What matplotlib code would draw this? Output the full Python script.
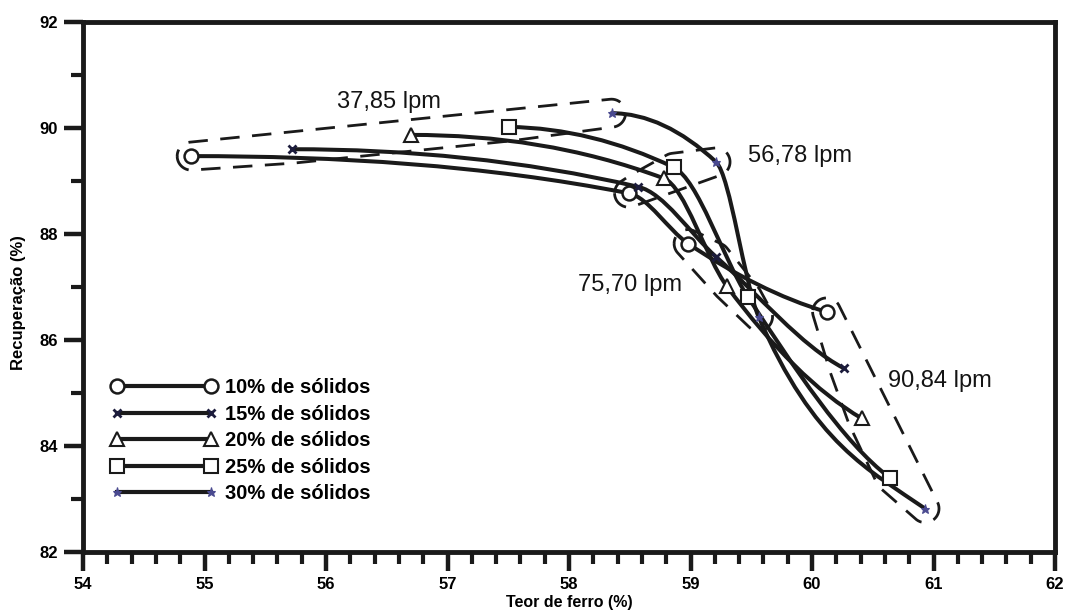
import matplotlib.pyplot as plt
import numpy as np
from matplotlib.path import Path
from matplotlib.patches import PathPatch, Polygon
from matplotlib.lines import Line2D

plt.rcParams['font.family'] = ['Liberation Sans', 'DejaVu Sans']

# Vazões de ar (uma por ponto de cada curva)
vazoes = ['37,85 lpm', '56,78 lpm', '75,70 lpm', '90,84 lpm']
solidos = ['10% de sólidos', '15% de sólidos', '20% de sólidos',
           '25% de sólidos', '30% de sólidos']

# Teor de ferro (%) e recuperação (%) por porcentagem de sólidos
teor_10 = [54.89, 58.49, 58.98, 60.12]
rec_10 = [89.47, 88.77, 87.82, 86.53]
teor_15 = [55.72, 58.57, 59.21, 60.26]
rec_15 = [89.60, 88.89, 87.57, 85.47]
teor_20 = [56.70, 58.78, 59.30, 60.41]
rec_20 = [89.87, 89.05, 87.01, 84.52]
teor_25 = [57.51, 58.86, 59.47, 60.64]
rec_25 = [90.02, 89.26, 86.82, 83.40]
teor_30 = [58.35, 59.21, 59.56, 60.93]
rec_30 = [90.28, 89.36, 86.44, 82.82]

teores = [teor_10, teor_15, teor_20, teor_25, teor_30]
recs = [rec_10, rec_15, rec_20, rec_25, rec_30]

# posição dos rótulos das vazões
pos_rotulos = [(56.52, 90.49), (59.90, 89.47), (58.50, 87.04), (61.05, 85.23)]

estilos = [
    dict(marker='o', ms=10, mfc='white', mec='#1a1a1a', mew=1.8),
    dict(marker='x', ms=6, mfc='#1c1c3c', mec='#1c1c3c', mew=2.0),
    dict(marker='^', ms=10, mfc='white', mec='#1a1a1a', mew=1.5),
    dict(marker='s', ms=10, mfc='white', mec='#1a1a1a', mew=1.5),
    dict(marker='*', ms=6.5, mfc='#4a4a90', mec='#4a4a90', mew=0.8),
]


def inclinacoes(x, y):
    # derivada em cada ponto: PCHIP, puxado um pouco para a parábola
    # de 3 pontos no trecho mais íngreme
    h = np.diff(x)
    s = np.diff(y) / h
    n = len(x)
    d = np.zeros(n)
    peso = [0.0, 0.3]
    for k in range(1, n - 1):
        par = (h[k] * s[k - 1] + h[k - 1] * s[k]) / (h[k - 1] + h[k])
        pch = 0.0
        if s[k - 1] * s[k] > 0:
            w1 = 2 * h[k] + h[k - 1]
            w2 = h[k] + 2 * h[k - 1]
            pch = (w1 + w2) / (w1 / s[k - 1] + w2 / s[k])
        d[k] = pch + peso[min(k - 1, len(peso) - 1)] * (par - pch)
    # início côncavo sem ondulação, final quase reto
    d[0] = np.clip(2 * s[0] - d[1], s[0], 0.0)
    d[-1] = 0.6 * s[-1]
    return d


def curva(x, y):
    x = np.asarray(x, float)
    y = np.asarray(y, float)
    d = inclinacoes(x, y)
    verts = [(x[0], y[0])]
    codes = [Path.MOVETO]
    for k in range(len(x) - 1):
        h = x[k + 1] - x[k]
        verts += [(x[k] + h / 3, y[k] + d[k] * h / 3),
                  (x[k + 1] - h / 3, y[k + 1] - d[k + 1] * h / 3),
                  (x[k + 1], y[k + 1])]
        codes += [Path.CURVE4] * 3
    return Path(verts, codes)


def casco(p):
    p = sorted(map(tuple, p))

    def cruz(o, a, b):
        return (a[0] - o[0]) * (b[1] - o[1]) - (a[1] - o[1]) * (b[0] - o[0])

    def metade(pts):
        out = []
        for q in pts:
            while len(out) >= 2 and cruz(out[-2], out[-1], q) <= 0:
                out.pop()
            out.append(q)
        return out

    lo = metade(p)
    up = metade(p[::-1])
    return np.array(lo[:-1] + up[:-1])


fig = plt.figure(figsize=(10.66, 6.15), dpi=100)
ax = fig.add_axes([0.0779, 0.1024, 0.9118, 0.8618])
ax.set_xlim(54, 62)
ax.set_ylim(82, 92)

# curvas suavizadas
for x, y in zip(teores, recs):
    ax.add_patch(PathPatch(curva(x, y), fill=False, lw=2.9, ec='#1a1a1a',
                           capstyle='round', zorder=3))

# marcadores
for x, y, st in zip(teores, recs, estilos):
    ax.plot(x, y, ls='none', zorder=4, **st)

# contornos tracejados agrupando cada vazão
raio = 14
ang = np.linspace(0, 2 * np.pi, 48, endpoint=False)
circ = np.c_[np.cos(ang), np.sin(ang)] * raio
for i, nome in enumerate(vazoes):
    xs = [t[i] for t in teores]
    ys = [r[i] for r in recs]
    pix = ax.transData.transform(np.c_[xs, ys])
    nuvem = (pix[:, None, :] + circ[None, :, :]).reshape(-1, 2)
    contorno = ax.transData.inverted().transform(casco(nuvem))
    ax.add_patch(Polygon(contorno, closed=True, fill=False, ec='#1a1a1a',
                         lw=2.0, ls=(0, (7, 4.5)), zorder=2))
    ax.text(pos_rotulos[i][0], pos_rotulos[i][1], nome, fontsize=17,
            color='#141414', ha='center', va='center', zorder=5)

# eixos
ax.set_xticks(np.arange(54, 62.01, 1))
ax.set_xticks(np.arange(54, 62.01, 0.2), minor=True)
ax.set_yticks(np.arange(82, 92.01, 2))
ax.set_yticks(np.arange(83, 92, 2), minor=True)
ax.tick_params(which='major', direction='out', length=14, width=3.2,
               labelsize=12, pad=4, color='#1a1a1a')
ax.tick_params(which='minor', direction='out', length=8.5, width=3.0,
               color='#1a1a1a')
for lbl in ax.get_xticklabels() + ax.get_yticklabels():
    lbl.set_fontweight('bold')
for sp in ax.spines.values():
    sp.set_linewidth(3.5)
    sp.set_color('#1a1a1a')

ax.set_xlabel('Teor de ferro (%)', fontsize=11.5, fontweight='bold')
ax.set_ylabel('Recuperação (%)', fontsize=12, fontweight='bold')
ax.xaxis.set_label_coords(0.5, -0.082)
ax.yaxis.set_label_coords(-0.0586, 0.47)

# legenda
alcas = [Line2D([], [], color='#1a1a1a', lw=3, **st) for st in estilos]
ax.legend(alcas, solidos, numpoints=2, frameon=False, loc='upper left',
          bbox_to_anchor=(0.104, 0.385), bbox_transform=fig.transFigure,
          handlelength=5.27, handletextpad=0.4, labelspacing=0.375,
          borderpad=0, borderaxespad=0,
          prop=dict(weight='bold', size=14.5))

fig.savefig('out.png', dpi=100)
